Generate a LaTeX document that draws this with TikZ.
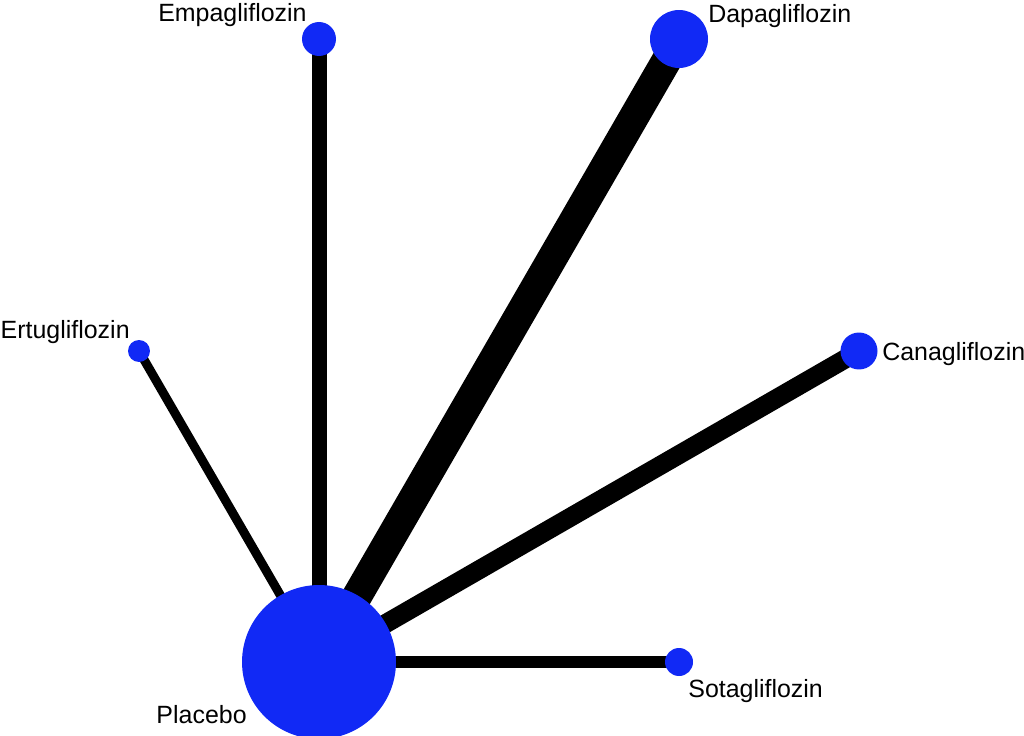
\documentclass[tikz,border=0pt]{standalone}
\usepackage{fontspec}
\setmainfont{Liberation Sans}
\usepackage{tikz}
\usetikzlibrary{positioning,backgrounds}
\usepackage{xcolor}
\definecolor{netblue}{RGB}{17,41,245}

\begin{document}
\begin{tikzpicture}[
    x=0.02cm, y=-0.02cm,
    trt/.style={circle, fill=netblue, draw=none, inner sep=0pt},
    lbl/.style={inner sep=0pt, font=\fontsize{14.2}{17}\selectfont, text=black},
    lnk/.style={line width=#1, black}
]
    \useasboundingbox (0,0) rectangle (1024,736);

    % Treatments (node size ~ number of patients)
    \node[trt, minimum size=3.08cm] (pla) at (319,662) {};
    \node[trt, minimum size=0.68cm] (emp) at (319,39) {};
    \node[trt, minimum size=1.16cm] (dap) at (679,39) {};
    \node[trt, minimum size=0.44cm] (ert) at (139,351) {};
    \node[trt, minimum size=0.74cm] (can) at (859,351) {};
    \node[trt, minimum size=0.56cm] (sot) at (679,662) {};

    % Labels
    \node[lbl, anchor=base east] (plalbl) at (247,723) {Placebo};
    \node[lbl, anchor=base east] (emplbl) at (307,22) {Empagliflozin};
    \node[lbl, anchor=base west] (daplbl) at (708,23) {Dapagliflozin};
    \node[lbl, anchor=base east] (ertlbl) at (130,338) {Ertugliflozin};
    \node[lbl, anchor=base west] (canlbl) at (882,360) {Canagliflozin};
    \node[lbl, anchor=base west] (sotlbl) at (688,697) {Sotagliflozin};

    % Comparisons (edge width ~ number of trials)
    \begin{scope}[on background layer]
        \draw[lnk=0.30cm] (pla.center) -- (emp.center);
        \draw[lnk=0.60cm] (pla.center) -- (dap.center);
        \draw[lnk=0.18cm] (pla.center) -- (ert.center);
        \draw[lnk=0.38cm] (pla.center) -- (can.center);
        \draw[lnk=0.25cm] (pla.center) -- (sot.center);
    \end{scope}
\end{tikzpicture}
\end{document}
